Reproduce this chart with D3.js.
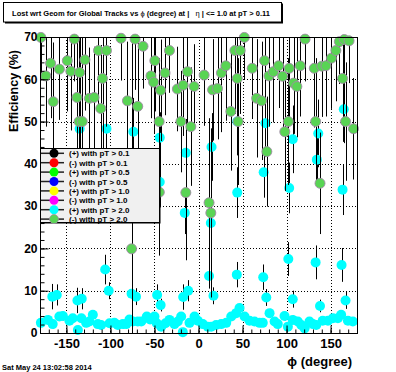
<!DOCTYPE html>
<html><head><meta charset="utf-8">
<script src="https://cdn.jsdelivr.net/npm/d3@7"></script>
<style>body{margin:0;background:#fff}svg{display:block}text{font-family:"Liberation Sans",Arial,sans-serif}</style>
</head><body>
<script>
// ---------- data ----------
const titleParts = ["Lost wrt Geom for Global Tracks vs ", "ϕ", " (degree) at |   ", "η", " | <= 1.0 at pT > 0.11"];
const yTitle = "Efficiency (%)";
const xTitle = "ϕ (degree)";
const dateText = "Sat May 24 13:02:58 2014";
const phiTicks = [-150, -100, -50, 0, 50, 100, 150];
const effTicks = [0, 10, 20, 30, 40, 50, 60, 70];
const legendLabels = ["(+) with pT > 0.1", "(-) with pT > 0.1", "(+) with pT > 0.5", "(-) with pT > 0.5",
  "(+) with pT > 1.0", "(-) with pT > 1.0", "(+) with pT > 2.0", "(-) with pT > 2.0"];

// (+) with pT > 2.0  (cyan)
const cyanPhi = [-179,-171,-165.6,-158,-154,-146.6,-142.8,-137,-133,-127.6,-124,-120,-114.4,-110.6,-101,-95.5,-91.7,-86,-82,-78.4,-74.7,-69,-65,-58.7,-55,-50,-47.4,-42.4,-37.5,-33,-27.3,-23.5,-19.7,-17.8,-10.2,-4.5,-0.8,4.9,10.6,14.4,20,25.8,31.5,37.2,42.8,46.6,52.3,58,63.6,69.3,73,80.7,86.4,90,97.7,101.5,107,112.8,116.7,120.5,126,130,133.7,141,147,152.6,158.3,162,169.7,175.3,
  -166,-161,-137.5,-132.6,-135,-106,-104.5,-102,-76,-74,-71,-47,-44,-44,-43,-17.4,-15.6,-14.4,-11.7,12,14,14.8,17,43.5,44,44,73.5,74,76,77,102,103,107,107,133,134.4,136,138,162.5,163.6,165,167];
const cyanEff = [2.4,3.1,2.1,3.9,4.0,2.9,3.5,0.7,3.5,2.4,2.7,4.3,2.1,1.9,2.3,2.4,1.9,2.1,2.1,3.2,2.7,2.7,2.7,3.9,3.2,3.9,2.3,1.5,2.3,3.1,2.1,2.7,3.9,0.2,2.4,3.9,2.9,2.1,1.5,1.5,1.9,2.1,2.4,3.9,4.7,5.9,3.9,2.9,2.7,2.4,2.4,4.7,2.7,2.1,4.0,1.5,3.1,2.7,1.9,1.1,2.7,2.1,1.9,2.9,2.9,3.5,3.5,4.3,2.9,2.7,
  8.6,9.0,7.7,8.1,48.3,15.0,48.3,10.0,9.3,47.6,8.6,9.0,46.2,35.7,6.6,8.5,28.4,42.6,10.0,13.5,26.0,44.0,8.8,13.8,33.2,50.0,13.2,38.0,49.6,8.4,17.5,34.3,45.8,8.0,16.7,41.0,47.2,6.4,16.1,33.9,52.9,7.7];
const cyanErr = [1,1,1,1,1,1,1,1,1,1,1,1,1,1,1,1,1,1,1,1,1,1,1,1,1,1,1,1,1,1,1,1,1,1,1,1,1,1,1,1,1,1,1,1,1,1,1,1,1,1,1,1,1,1,1,1,1,1,1,1,1,1,1,1,1,1,1,1,1,1,
  3,2.5,3,2.5,6,3.5,8,2,3,8,2,2.5,6,6,1.5,3,5,8,2.5,3,6,8,2,3,6,8,3,6,8,2,4,6,8,2,4,6,8,1.5,4,6,8,2];

// (-) with pT > 2.0  (light green)
const greenPhi = [-179,-173.5,-168,-165,-158,-149,-145,-141,-138,-135.6,-135,-132,-129,-124,-118.5,-113.6,-111,-109,-104.5,-88,-80.7,-76,-72,-69,-63,-54,-51,-49.6,-44.7,-44.5,-43,-38,-33,-24,-20,-17.4,-14.4,-12.5,-8.7,-5,
  6.4,12,14,16,21.6,26,31,36.7,41.3,44,45,47.4,52,61,66,71.6,75,77.6,80,85,91,95.5,98,102,103,108,111.7,115.5,121,131.5,133,138,140,144.7,151,156,160,163.6,165.5,167,171,176];
const greenEff = [69.9,60.8,63.8,54.7,62.4,64.4,61.9,69.5,55.7,50,61.6,50,64.6,55.5,55.7,66.8,53.1,60.2,66.8,69.7,54.9,19.9,69.5,53.6,67.8,60.8,59.3,64.4,50,33.3,57.4,61.5,66.8,57.7,50,58.6,33.2,61.8,48.8,58.3,
  61,30.8,28.4,57.5,57.8,61.5,63.2,52.4,66.8,60.2,50,66.8,69.9,62.6,55.5,54.9,64.4,42.9,60.8,61.8,63.2,60.7,47.6,50,62.6,59.1,58.3,63.2,69.5,62.6,50,35.4,63.1,63.2,65,66.8,68.9,60.2,69.4,50,69.1,48.3];
const greenErr = [10,12,13,14,12,12,14,10,14,20,15,20,12,12,12,14,15,20,18,10,14,55,12,15,10,10,12,12,15,15,12,10,10,10,12,12,16,12,14,10,
  12,20,20,12,12,14,13,14,15,15,15,15,10,12,14,14,12,13,12,12,10,12,14,15,12,12,12,12,10,14,15,12,12,12,12,12,10,15,10,14,10,12];

// ---------- style ----------
const W = 396, H = 372;
const frame = {l: 40, r: 357, t: 37, b: 333};
const legendColors = ["#000000", "#ff0000", "#00ff00", "#0000ff", "#ffff00", "#ff00ff", "#00ffff", "#59d454"];
const markR = 5;

const svg = d3.select("body").append("svg").attr("width", W).attr("height", H);
svg.append("rect").attr("width", W).attr("height", H).attr("fill", "#fff");

const x = d3.scaleLinear().domain([-180, 180]).range([frame.l, frame.r]);
const y = d3.scaleLinear().domain([0, 70]).range([frame.b, frame.t]);

// grid
const grid = svg.append("g").attr("stroke", "#000").attr("stroke-width", 1).attr("stroke-dasharray", "1,2");
phiTicks.forEach(v => grid.append("line").attr("x1", Math.round(x(v)) + 0.5).attr("x2", Math.round(x(v)) + 0.5).attr("y1", frame.t).attr("y2", frame.b));
effTicks.filter(v => v > 0 && v < 70).forEach(v => grid.append("line").attr("y1", Math.round(y(v)) + 0.5).attr("y2", Math.round(y(v)) + 0.5).attr("x1", frame.l).attr("x2", frame.r));

// series drawing
const clipV = v => Math.max(0, Math.min(70, v));
const px = v => Math.round(x(v)) + 0.5;
function drawSeries(phis, effs, errs, fill, stroke) {
  const g = svg.append("g");
  g.selectAll("line").data(phis).join("line")
    .attr("x1", d => px(d)).attr("x2", d => px(d))
    .attr("y1", (d, i) => y(clipV(effs[i] - errs[i]))).attr("y2", (d, i) => y(clipV(effs[i] + errs[i])))
    .attr("stroke", "#000").attr("stroke-width", 1);
  g.selectAll("circle").data(phis).join("circle")
    .attr("cx", d => x(d)).attr("cy", (d, i) => y(effs[i])).attr("r", markR)
    .attr("fill", fill).attr("stroke", stroke || "none").attr("stroke-width", stroke ? 0.9 : 0);
}
drawSeries(cyanPhi, cyanEff, cyanErr, legendColors[6], null);
drawSeries(greenPhi, greenEff, greenErr, legendColors[7], "#a08aa6");

// frame
svg.append("rect").attr("x", frame.l + 0.5).attr("y", frame.t + 0.5).attr("width", frame.r - frame.l).attr("height", frame.b - frame.t)
  .attr("fill", "none").attr("stroke", "#000").attr("stroke-width", 1);

// axes
const yAxis = svg.append("g").attr("transform", `translate(${frame.l + 0.5},0)`)
  .call(d3.axisLeft(y).tickValues(effTicks).tickSizeInner(-8).tickSizeOuter(0).tickPadding(3).tickFormat(d3.format("d")));
const yMinor = svg.append("g").attr("transform", `translate(${frame.l + 0.5},0)`)
  .call(d3.axisLeft(y).tickValues(d3.range(0, 71, 2)).tickSizeInner(-4).tickSizeOuter(0).tickFormat(""));
const xAxis = svg.append("g").attr("transform", `translate(0,${frame.b + 0.5})`)
  .call(d3.axisBottom(x).tickValues(phiTicks).tickSizeInner(-8).tickSizeOuter(0).tickPadding(5).tickFormat(d3.format("d")));
const xMinor = svg.append("g").attr("transform", `translate(0,${frame.b + 0.5})`)
  .call(d3.axisBottom(x).tickValues(d3.range(-180, 181, 10)).tickSizeInner(-4).tickSizeOuter(0).tickFormat(""));
[yAxis, yMinor, xAxis, xMinor].forEach(g => { g.select(".domain").remove(); g.selectAll("line").attr("stroke", "#000"); });
yAxis.selectAll("text").style("font", "bold 12px 'Liberation Sans', Arial, sans-serif").attr("fill", "#000");
xAxis.selectAll("text").style("font", "bold 13px 'Liberation Sans', Arial, sans-serif").attr("fill", "#000");
xAxis.selectAll("text").text(d => d < 0 ? "-" + Math.abs(d) : d);

// axis titles
svg.append("text").attr("transform", `translate(17.5,50) rotate(-90)`).attr("text-anchor", "end")
  .style("font", "bold 12.5px 'Liberation Sans', Arial, sans-serif").text(yTitle);
svg.append("text").attr("x", 352).attr("y", 366).attr("text-anchor", "end")
  .style("font", "bold 13px 'Liberation Sans', Arial, sans-serif").text(xTitle);

// date
svg.append("text").attr("x", 2).attr("y", 370).style("font", "bold 7.5px 'Liberation Sans', Arial, sans-serif").text(dateText);

// title box
svg.append("rect").attr("x", 5).attr("y", 3.5).attr("width", 278).attr("height", 20).attr("fill", "#000");
svg.append("rect").attr("x", 3.5).attr("y", 2.5).attr("width", 278).attr("height", 19.5).attr("fill", "#fff").attr("stroke", "#000").attr("stroke-width", 1);
const tt = svg.append("text").attr("x", 141).attr("y", 15.5).attr("text-anchor", "middle")
  .style("font", "bold 7.5px 'Liberation Sans', Arial, sans-serif");
titleParts.forEach((p, i) => tt.append("tspan").attr("font-weight", (i === 1 || i === 3) ? "normal" : "bold").attr("xml:space", "preserve").text(p));

// legend
const lg = {x: 40, y: 148, w: 119, h: 74};
svg.append("rect").attr("x", lg.x + 1.5).attr("y", lg.y + 1.5).attr("width", lg.w).attr("height", lg.h).attr("fill", "#000");
svg.append("rect").attr("x", lg.x + 0.5).attr("y", lg.y + 0.5).attr("width", lg.w).attr("height", lg.h).attr("fill", "#f0f0f0").attr("stroke", "#000");
legendLabels.forEach((lab, i) => {
  const cy = 153.3 + i * 9.4;
  svg.append("line").attr("x1", 41).attr("x2", 64).attr("y1", cy).attr("y2", cy).attr("stroke", "#222").attr("stroke-width", 1.5);
  svg.append("circle").attr("cx", 54).attr("cy", cy).attr("r", 4.5).attr("fill", legendColors[i])
    .attr("stroke", i === 7 ? "#a08aa6" : "none").attr("stroke-width", 0.8);
  svg.append("text").attr("x", 69).attr("y", cy + 3).style("font", "bold 8px 'Liberation Sans', Arial, sans-serif").text(lab);
});
</script>
</body></html>
